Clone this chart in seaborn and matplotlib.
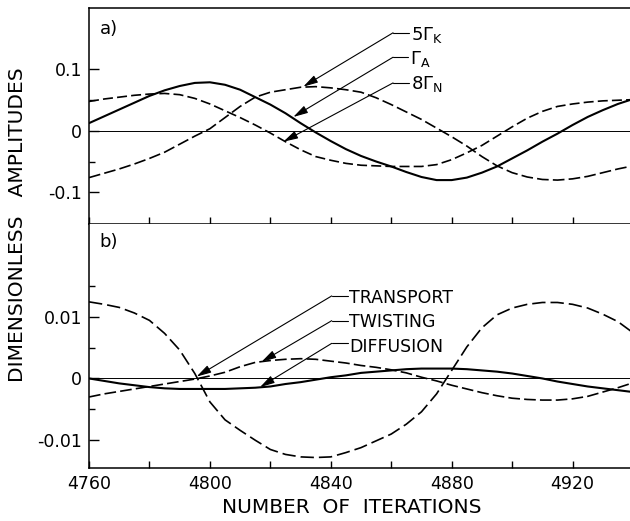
import numpy as np
import pandas as pd
import seaborn as sns
import matplotlib
matplotlib.use("Agg")
import matplotlib.pyplot as plt
from matplotlib.ticker import MultipleLocator, FixedLocator, FixedFormatter

# iteration grid (every 5 iterations)
iterations = list(range(4760, 4945, 5))

# panel a)
gamma_a = [0.012, 0.023, 0.034, 0.045, 0.056, 0.065, 0.072, 0.077, 0.078, 0.074,
           0.066, 0.054, 0.042, 0.028, 0.012, -0.003, -0.017, -0.030, -0.041, -0.050,
           -0.058, -0.067, -0.075, -0.080, -0.080, -0.076, -0.068, -0.058, -0.045, -0.032,
           -0.018, -0.005, 0.009, 0.022, 0.033, 0.043, 0.051]
gamma_k5 = [-0.076, -0.069, -0.062, -0.054, -0.045, -0.035, -0.022, -0.009, 0.003, 0.021,
            0.039, 0.054, 0.062, 0.066, 0.070, 0.071, 0.069, 0.066, 0.062, 0.053,
            0.042, 0.030, 0.018, 0.004, -0.010, -0.025, -0.042, -0.057, -0.068, -0.075,
            -0.079, -0.080, -0.078, -0.074, -0.068, -0.062, -0.057]
gamma_n8 = [0.047, 0.051, 0.054, 0.057, 0.059, 0.060, 0.058, 0.052, 0.043, 0.032,
            0.021, 0.009, -0.004, -0.018, -0.031, -0.042, -0.048, -0.053, -0.056, -0.057,
            -0.058, -0.058, -0.058, -0.055, -0.047, -0.036, -0.024, -0.009, 0.006, 0.020,
            0.031, 0.039, 0.043, 0.046, 0.048, 0.049, 0.050]

# panel b)
transport = [0.0124, 0.0120, 0.0115, 0.0106, 0.0094, 0.0073, 0.0046, 0.0008, -0.0038, -0.0067,
             -0.0084, -0.0100, -0.0115, -0.0123, -0.0127, -0.0128, -0.0127, -0.0120, -0.0112, -0.0101,
             -0.0090, -0.0074, -0.0054, -0.0025, 0.0013, 0.0051, 0.0082, 0.0103, 0.0114, 0.0120,
             0.0123, 0.0123, 0.0120, 0.0114, 0.0104, 0.0092, 0.0074]
twisting = [-0.0030, -0.0025, -0.0021, -0.0017, -0.0013, -0.0009, -0.0005, -0.0001, 0.0004, 0.0010,
            0.0019, 0.0026, 0.0029, 0.0031, 0.0032, 0.0031, 0.0028, 0.0025, 0.0021, 0.0018,
            0.0014, 0.0009, 0.0002, -0.0004, -0.0011, -0.0017, -0.0023, -0.0028, -0.0032, -0.0034,
            -0.0035, -0.0035, -0.0033, -0.0029, -0.0022, -0.0015, -0.0007]
diffusion = [0.0000, -0.0004, -0.0008, -0.0011, -0.0014, -0.0016, -0.0017, -0.0017, -0.0017, -0.0017,
             -0.0016, -0.0015, -0.0013, -0.0009, -0.0006, -0.0002, 0.0002, 0.0005, 0.0009, 0.0011,
             0.0013, 0.0015, 0.0016, 0.0016, 0.0016, 0.0015, 0.0013, 0.0011, 0.0008, 0.0004,
             0.0000, -0.0005, -0.0009, -0.0013, -0.0016, -0.0019, -0.0022]

sns.set_style("ticks")
plt.rcParams["font.family"] = ["DejaVu Sans"]
plt.rcParams["axes.unicode_minus"] = False
plt.rcParams["mathtext.fontset"] = "dejavusans"
# plain black ink, like the printed original
for key in ("text.color", "axes.edgecolor", "axes.labelcolor", "xtick.color", "ytick.color"):
    plt.rcParams[key] = "black"

df_a = pd.DataFrame({"iteration": iterations * 3,
                     "amp": gamma_a + gamma_k5 + gamma_n8,
                     "series": ["A"] * 37 + ["K"] * 37 + ["N"] * 37})
df_b = pd.DataFrame({"iteration": iterations * 3,
                     "amp": transport + twisting + diffusion,
                     "series": ["transport"] * 37 + ["twisting"] * 37 + ["diffusion"] * 37})

fig = plt.figure(figsize=(6.3, 5.21), dpi=100)
ax_a = fig.add_axes([0.1413, 0.570, 0.8587, 0.4146])
ax_b = fig.add_axes([0.1413, 0.1017, 0.8587, 0.4683])

sns.lineplot(data=df_a, x="iteration", y="amp", style="series", size="series",
             dashes={"A": "", "K": (7, 2.5), "N": (6, 2.5)},
             sizes={"A": 1.5, "K": 1.2, "N": 1.2},
             color="black", legend=False, estimator=None, sort=False, ax=ax_a)
sns.lineplot(data=df_b, x="iteration", y="amp", style="series", size="series",
             dashes={"transport": (8, 3), "twisting": (7, 2.5), "diffusion": ""},
             sizes={"transport": 1.2, "twisting": 1.2, "diffusion": 1.5},
             color="black", legend=False, estimator=None, sort=False, ax=ax_b)

for ax in (ax_a, ax_b):
    ax.axhline(0, color="black", lw=0.7, zorder=1)
    ax.set_xlim(4760, 4939)
    ax.xaxis.set_major_locator(MultipleLocator(40))
    ax.xaxis.set_minor_locator(MultipleLocator(20))
    ax.tick_params(which="both", direction="in", color="black", labelcolor="black",
                   width=1.0, labelsize=12.5, pad=5)
    ax.tick_params(axis="y", which="major", length=7)
    ax.tick_params(axis="y", which="minor", length=4.5)
    ax.tick_params(axis="x", which="both", length=5)
    ax.spines["right"].set_visible(False)
    for s in ("left", "bottom", "top"):
        ax.spines[s].set_linewidth(1.1)
        ax.spines[s].set_color("black")
    ax.set_xlabel("")
    ax.set_ylabel("")

ax_a.set_ylim(-0.151, 0.198)
ax_a.yaxis.set_major_locator(FixedLocator([-0.1, 0, 0.1]))
ax_a.yaxis.set_major_formatter(FixedFormatter(["-0.1", "0", "0.1"]))
ax_a.yaxis.set_minor_locator(FixedLocator([-0.05, 0.05]))
ax_a.tick_params(axis="x", labelbottom=False)

ax_b.set_ylim(-0.0145, 0.025)
ax_b.yaxis.set_major_locator(FixedLocator([-0.01, 0, 0.01]))
ax_b.yaxis.set_major_formatter(FixedFormatter(["-0.01", "0", "0.01"]))
ax_b.yaxis.set_minor_locator(FixedLocator([-0.005, 0.005, 0.015]))
ax_b.spines["top"].set_visible(False)

ax_a.text(0.02, 0.945, "a)", transform=ax_a.transAxes, fontsize=13, va="top")
ax_b.text(0.02, 0.962, "b)", transform=ax_b.transAxes, fontsize=13, va="top")

arrow_style = dict(arrowstyle="-|>,head_length=0.8,head_width=0.22", color="black",
                   lw=0.8, mutation_scale=11, shrinkA=0, shrinkB=0)

# label, tip (on curve), leader start x, leader y, text x, text baseline y
labels_a = [(r"5$\Gamma_{\mathrm{K}}$", (4830.9, 0.071), 4860.6, 0.158, 4866.4, 0.147),
            (r"$\Gamma_{\mathrm{A}}$", (4827.6, 0.022), 4860.6, 0.1185, 4866.2, 0.107),
            (r"8$\Gamma_{\mathrm{N}}$", (4824.3, -0.018), 4860.6, 0.077, 4866.4, 0.0667)]
labels_b = [("TRANSPORT", (4795.6, 0.0003), 4840.3, 0.01336, 4846.1, 0.01218),
            ("TWISTING", (4817.1, 0.0027), 4840.3, 0.00935, 4846.1, 0.00838),
            ("DIFFUSION", (4816.6, -0.0014), 4840.3, 0.00568, 4846.1, 0.00432)]

for ax, items, fs in ((ax_a, labels_a, 13), (ax_b, labels_b, 12.5)):
    for text, tip, lx, ly, tx, ty in items:
        ax.plot([lx, tx - 0.5], [ly, ly], color="black", lw=0.8)
        ax.annotate("", xy=tip, xytext=(lx, ly), arrowprops=arrow_style)
        ax.text(tx, ty, text, fontsize=fs, va="baseline", ha="left")

fig.text(0.027, 0.568, "DIMENSIONLESS   AMPLITUDES", rotation=90,
         fontsize=14.5, ha="center", va="center")
fig.text(0.558, 0.025, "NUMBER  OF  ITERATIONS", fontsize=14.5,
         ha="center", va="center")

fig.savefig("out.png", dpi=100)
